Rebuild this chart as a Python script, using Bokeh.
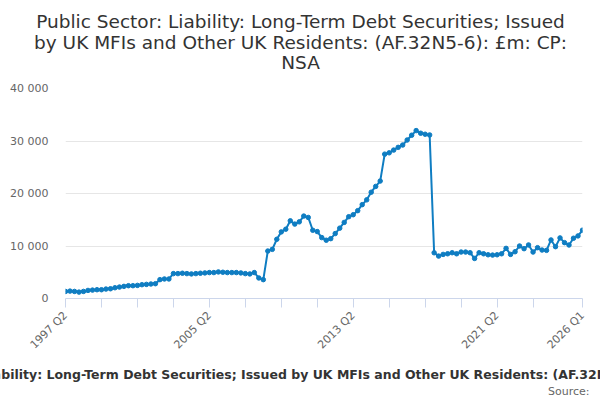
import math
from bokeh.plotting import figure
from bokeh.layouts import column
from bokeh.models import Range1d, FixedTicker, Label, ColumnDataSource
from bokeh.embed import file_html
from bokeh.resources import INLINE

# ---- data ----
start_year = 1997
start_q = 2
values = [
    1350, 1410, 1350, 1220, 1350, 1540, 1600, 1670, 1670, 1800,
    1860, 2050, 2180, 2310, 2440, 2440, 2500, 2630, 2690, 2760,
    2820, 3590, 3720, 3720, 4740, 4740, 4810, 4740, 4680, 4740,
    4810, 4870, 4940, 4940, 5060, 5000, 4940, 4940, 4940, 4870,
    4740, 4680, 4940, 3910, 3590, 9040, 9360, 11280, 12690, 13200,
    14800, 14170, 14600, 15700, 15440, 13000, 12750, 11600, 11100, 11400,
    12370, 13400, 14500, 15580, 15960, 16730, 17880, 18790, 20250, 21350,
    22370, 27500, 27750, 28270, 28790, 29230, 30190, 31100, 31980, 31480,
    31290, 31150, 8710, 8080, 8400, 8520, 8720, 8520, 8850, 8850,
    8720, 7630, 8720, 8520, 8330, 8270, 8330, 8520, 9550, 8400,
    8910, 10000, 9490, 10200, 8850, 9680, 9230, 9170, 11150, 9870,
    11540, 10640, 10190, 11480, 11920, 13020,
]
quarters = []
for i in range(len(values)):
    qi = start_q - 1 + i
    quarters.append(f"{start_year + qi // 4} Q{qi % 4 + 1}")

x_tick_idx = [0, 8, 16, 24, 32, 40, 48, 56, 64, 72, 80, 88, 96, 104, 115]
x_label_idx = [0, 32, 64, 96, 115]
y_ticks = [0, 10000, 20000, 30000, 40000]
y_tick_labels = ["0", "10 000", "20 000", "30 000", "40 000"]

title_lines = [
    "Public Sector: Liability: Long-Term Debt Securities; Issued",
    "by UK MFIs and Other UK Residents: (AF.32N5-6): £m: CP:",
    "NSA",
]
caption = ("Public Sector: Liability: Long-Term Debt Securities; Issued by UK MFIs "
           "and Other UK Residents: (AF.32N5-6): £m: CP: NSA")
source_text = "Source:"

FONT = "DejaVu Sans"
LINE = "#0f7dc2"
W = 600


def text_panel(h):
    f = figure(width=W, height=h, output_backend="svg", toolbar_location=None,
               x_range=Range1d(0, W), y_range=Range1d(h, 0),
               x_axis_location=None, y_axis_location=None,
               min_border=0, min_border_left=0, min_border_right=0,
               min_border_top=0, min_border_bottom=0, frame_align=False)
    f.grid.visible = False
    f.outline_line_color = None
    f.background_fill_color = "white"
    f.border_fill_color = "white"
    return f


# ---- title panel ----
TOP_H = 80
top = text_panel(TOP_H)
for line, yy in zip(title_lines, [21, 42, 62]):
    top.add_layout(Label(x=300, y=yy, text=line, text_font=FONT,
                         text_font_size="18.5px", text_color="#333333",
                         text_align="center", text_baseline="middle"))

# ---- main chart ----
MAIN_H = 280
src = ColumnDataSource(dict(x=list(range(len(values))), y=values, q=quarters))

p = figure(width=W, height=MAIN_H, output_backend="svg", toolbar_location=None,
           x_range=Range1d(0, len(values) - 1), y_range=Range1d(0, 40000),
           min_border_left=65, min_border_right=18, min_border_top=8,
           min_border_bottom=MAIN_H - 8 - 210, frame_align=False)
p.outline_line_color = None
p.background_fill_color = "white"
p.border_fill_color = "white"

p.line("x", "y", source=src, line_color=LINE, line_width=2)
p.scatter("x", "y", source=src, size=4.5, fill_color=LINE, line_color=LINE)

xa = p.xaxis[0]
xa.ticker = FixedTicker(ticks=x_tick_idx)
xa.major_label_overrides = {i: (quarters[i] if i in x_label_idx else "") for i in x_tick_idx}
xa.major_label_orientation = math.pi / 4
xa.axis_line_color = "#ccd6eb"
xa.major_tick_line_color = "#ccd6eb"
xa.major_tick_out = 9
xa.major_tick_in = 0
xa.minor_tick_out = 0
xa.minor_tick_in = 0
xa.major_label_text_font = FONT
xa.major_label_text_font_size = "11px"
xa.major_label_text_color = "#666666"
xa.major_label_standoff = 6

ya = p.yaxis[0]
ya.ticker = FixedTicker(ticks=y_ticks)
ya.major_label_overrides = {v: l for v, l in zip(y_ticks, y_tick_labels)}
ya.axis_line_color = None
ya.major_tick_line_color = None
ya.minor_tick_line_color = None
ya.major_tick_out = 0
ya.major_tick_in = 0
ya.major_label_text_font = FONT
ya.major_label_text_font_size = "11px"
ya.major_label_text_color = "#666666"
ya.major_label_standoff = 17

p.xgrid.grid_line_color = None
p.ygrid.grid_line_color = "#e6e6e6"
p.ygrid.grid_line_width = 1

# ---- caption panel ----
BOT_H = 40
bot = text_panel(BOT_H)
bot.add_layout(Label(x=305, y=14, text=caption, text_font=FONT,
                     text_font_size="12.5px", text_font_style="bold",
                     text_color="#333333", text_align="center", text_baseline="middle"))
bot.add_layout(Label(x=589, y=31, text=source_text, text_font=FONT,
                     text_font_size="11px", text_color="#666666",
                     text_align="right", text_baseline="middle"))

layout = column(top, p, bot, spacing=0)
open("out.html", "w").write(file_html(layout, INLINE))
